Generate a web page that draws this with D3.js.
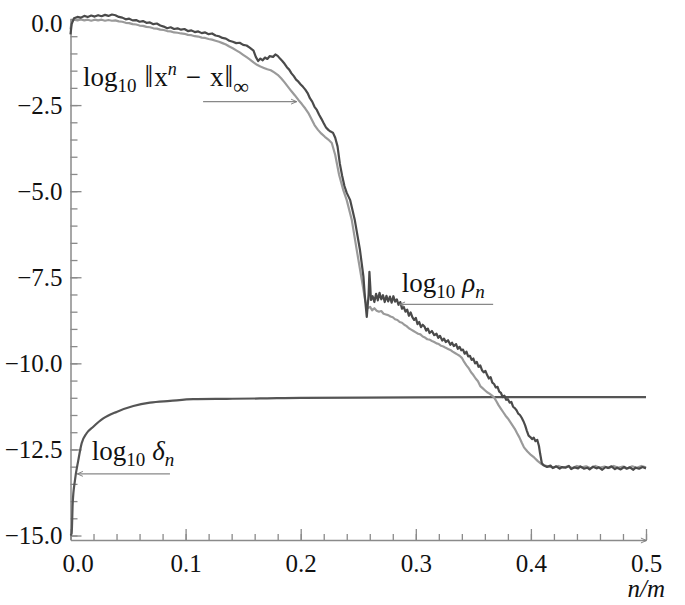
<!DOCTYPE html>
<html>
<head>
<meta charset="utf-8">
<script src="https://cdn.jsdelivr.net/npm/d3@7/dist/d3.min.js"></script>
<style>
  body { margin: 0; background: #fff; }
  svg text { font-family: "Liberation Serif", "DejaVu Serif", serif; fill: #111; }
</style>
</head>
<body>
<div id="chart"></div>
<script>
// значения: [n/m, log10]
const rhoSeries = [
  [0.000,-0.45],[0.001,-0.15],[0.003,0.02],[0.006,0.06],[0.009,0.04],[0.012,0.09],[0.015,0.06],
  [0.018,0.10],[0.021,0.07],[0.024,0.11],[0.027,0.08],[0.030,0.12],[0.033,0.09],[0.036,0.13],
  [0.039,0.11],[0.042,0.06],[0.045,0.04],[0.048,-0.01],[0.051,0.01],[0.054,-0.04],[0.057,-0.03],
  [0.060,-0.08],[0.063,-0.06],[0.066,-0.11],[0.069,-0.10],[0.072,-0.15],[0.075,-0.13],[0.078,-0.19],
  [0.081,-0.22],[0.084,-0.27],[0.087,-0.24],[0.090,-0.29],[0.093,-0.27],[0.096,-0.31],[0.099,-0.29],
  [0.102,-0.35],[0.105,-0.33],[0.108,-0.38],[0.111,-0.36],[0.114,-0.41],[0.117,-0.39],[0.120,-0.44],
  [0.123,-0.42],[0.126,-0.48],[0.129,-0.50],[0.132,-0.55],[0.135,-0.57],[0.138,-0.63],[0.141,-0.66],
  [0.144,-0.70],[0.147,-0.69],[0.150,-0.75],[0.153,-0.77],[0.156,-0.84],[0.159,-0.92],[0.161,-1.10],
  [0.163,-1.22],[0.165,-1.15],[0.167,-1.20],[0.169,-1.12],[0.171,-1.16],[0.173,-1.08],[0.176,-1.10],
  [0.178,-1.03],[0.180,-1.07],[0.182,-1.15],[0.184,-1.22],[0.186,-1.30],[0.188,-1.40],[0.190,-1.47],
  [0.192,-1.58],[0.194,-1.66],[0.196,-1.76],[0.198,-1.82],[0.200,-1.90],[0.202,-1.97],[0.204,-2.05],
  [0.206,-2.15],[0.208,-2.30],[0.210,-2.40],[0.212,-2.55],[0.214,-2.64],[0.216,-2.78],[0.218,-2.90],
  [0.220,-3.03],[0.222,-3.15],[0.224,-3.22],[0.226,-3.27],[0.228,-3.30],[0.230,-3.45],[0.232,-3.70],
  [0.234,-4.20],[0.236,-4.55],[0.238,-4.85],[0.240,-5.05],[0.243,-5.26],[0.247,-5.84],[0.2515,-6.71],
  [0.2545,-7.48],[0.256,-8.16],[0.2574,-8.65],[0.259,-8.00],[0.2597,-7.34],[0.2605,-7.80],[0.261,-8.16],
  [0.2625,-8.05],[0.264,-8.22],[0.2655,-7.98],[0.267,-8.17],[0.2685,-7.95],[0.270,-8.14],[0.2715,-8.02],
  [0.273,-8.22],[0.2745,-8.04],[0.276,-8.20],[0.2775,-8.06],[0.279,-8.24],[0.2805,-8.05],[0.282,-8.21],
  [0.2835,-8.14],[0.285,-8.30],[0.2865,-8.22],[0.288,-8.41],[0.2895,-8.36],[0.291,-8.50],[0.2925,-8.44],
  [0.294,-8.62],[0.2955,-8.52],[0.297,-8.66],[0.2985,-8.74],[0.300,-8.68],[0.3015,-8.86],[0.303,-8.80],
  [0.3045,-8.95],[0.306,-8.88],[0.3075,-8.93],[0.309,-9.05],[0.3105,-8.99],[0.312,-9.12],[0.314,-9.06],
  [0.316,-9.18],[0.318,-9.14],[0.3195,-9.26],[0.321,-9.20],[0.323,-9.34],[0.3245,-9.28],[0.326,-9.38],
  [0.328,-9.33],[0.330,-9.46],[0.3315,-9.40],[0.333,-9.50],[0.335,-9.44],[0.3365,-9.58],[0.338,-9.52],
  [0.3395,-9.62],[0.341,-9.60],[0.3425,-9.72],[0.344,-9.66],[0.3455,-9.80],[0.347,-9.78],[0.3485,-9.90],
  [0.350,-9.86],[0.3515,-10.00],[0.353,-9.96],[0.3545,-10.10],[0.356,-10.06],[0.3575,-10.20],
  [0.359,-10.26],[0.3605,-10.22],[0.362,-10.34],[0.3635,-10.44],[0.365,-10.40],[0.3665,-10.56],
  [0.368,-10.60],[0.3695,-10.70],[0.371,-10.68],[0.3725,-10.82],[0.374,-10.86],[0.3755,-10.98],
  [0.377,-10.94],[0.3785,-11.06],[0.380,-11.04],[0.3815,-11.14],[0.383,-11.12],[0.3845,-11.26],
  [0.386,-11.30],[0.3875,-11.36],[0.389,-11.46],[0.3905,-11.50],[0.392,-11.58],[0.3935,-11.68],
  [0.395,-11.80],[0.3965,-11.96],[0.398,-12.10],[0.3995,-12.14],[0.401,-12.20],[0.4025,-12.16],
  [0.404,-12.26],[0.4055,-12.22],[0.407,-12.40],[0.408,-12.62],[0.4095,-12.90],[0.411,-12.96],
  [0.414,-13.01],[0.417,-12.97],[0.419,-13.04],[0.422,-12.99],[0.425,-13.06],[0.427,-13.01],
  [0.430,-13.03],[0.433,-12.98],[0.435,-13.07],[0.438,-13.02],[0.441,-13.05],[0.443,-12.99],
  [0.446,-13.06],[0.449,-13.03],[0.451,-13.08],[0.454,-13.00],[0.457,-13.05],[0.459,-13.02],
  [0.462,-13.09],[0.465,-13.01],[0.467,-13.04],[0.470,-12.99],[0.473,-13.07],[0.475,-13.03],
  [0.478,-13.08],[0.481,-13.01],[0.483,-13.06],[0.486,-13.02],[0.489,-13.09],[0.491,-13.03],
  [0.494,-13.06],[0.497,-13.01],[0.500,-13.05]
];

const errSeries = [
  [0.000,-0.30],[0.001,-0.08],[0.003,-0.02],[0.006,-0.04],[0.009,-0.01],[0.012,-0.04],[0.015,-0.02],
  [0.018,-0.05],[0.021,-0.02],[0.024,-0.04],[0.027,-0.02],[0.030,-0.05],[0.033,-0.03],[0.036,-0.05],
  [0.039,-0.04],[0.042,-0.07],[0.045,-0.08],[0.048,-0.11],[0.051,-0.12],[0.054,-0.15],[0.057,-0.16],
  [0.060,-0.19],[0.063,-0.20],[0.066,-0.23],[0.069,-0.24],[0.072,-0.27],[0.075,-0.28],[0.078,-0.31],
  [0.081,-0.32],[0.084,-0.35],[0.087,-0.36],[0.090,-0.39],[0.093,-0.40],[0.096,-0.42],[0.099,-0.43],
  [0.102,-0.46],[0.105,-0.47],[0.108,-0.50],[0.111,-0.51],[0.114,-0.54],[0.117,-0.55],[0.120,-0.58],
  [0.123,-0.60],[0.126,-0.63],[0.129,-0.66],[0.132,-0.70],[0.135,-0.74],[0.138,-0.80],[0.141,-0.85],
  [0.144,-0.91],[0.147,-0.97],[0.150,-1.04],[0.153,-1.11],[0.156,-1.18],[0.159,-1.26],[0.162,-1.33],
  [0.165,-1.38],[0.168,-1.42],[0.171,-1.46],[0.174,-1.49],[0.177,-1.55],[0.180,-1.62],[0.183,-1.72],
  [0.186,-1.84],[0.189,-1.97],[0.192,-2.10],[0.195,-2.22],[0.198,-2.35],[0.201,-2.47],[0.204,-2.60],
  [0.207,-2.75],[0.210,-2.95],[0.212,-3.08],[0.215,-3.22],[0.218,-3.33],[0.221,-3.42],[0.224,-3.50],
  [0.227,-3.60],[0.230,-3.95],[0.2334,-4.53],[0.237,-4.97],[0.240,-5.26],[0.2444,-5.84],[0.2487,-6.71],
  [0.2531,-7.58],[0.256,-8.16],[0.258,-8.40],[0.2603,-8.36],[0.262,-8.46],[0.264,-8.40],[0.266,-8.47],
  [0.268,-8.50],[0.270,-8.48],[0.272,-8.56],[0.274,-8.58],[0.276,-8.60],[0.278,-8.64],[0.280,-8.66],
  [0.282,-8.72],[0.284,-8.74],[0.286,-8.80],[0.288,-8.82],[0.290,-8.88],[0.292,-8.92],[0.294,-8.98],
  [0.296,-9.02],[0.298,-9.06],[0.300,-9.10],[0.302,-9.14],[0.304,-9.16],[0.306,-9.22],[0.308,-9.25],
  [0.310,-9.30],[0.312,-9.31],[0.314,-9.35],[0.316,-9.38],[0.318,-9.42],[0.320,-9.44],[0.322,-9.49],
  [0.324,-9.51],[0.326,-9.55],[0.328,-9.58],[0.330,-9.61],[0.332,-9.66],[0.334,-9.70],[0.336,-9.74],
  [0.338,-9.78],[0.340,-9.84],[0.342,-9.96],[0.344,-10.06],[0.346,-10.14],[0.348,-10.26],
  [0.350,-10.34],[0.352,-10.44],[0.354,-10.52],[0.356,-10.66],[0.358,-10.72],[0.360,-10.78],
  [0.362,-10.84],[0.364,-10.88],[0.366,-10.93],[0.368,-10.99],[0.370,-11.10],[0.372,-11.22],
  [0.374,-11.32],[0.376,-11.42],[0.378,-11.52],[0.380,-11.60],[0.382,-11.70],[0.384,-11.80],
  [0.386,-11.90],[0.388,-12.03],[0.390,-12.15],[0.392,-12.30],[0.394,-12.44],[0.397,-12.56],
  [0.400,-12.66],[0.403,-12.74],[0.406,-12.84],[0.409,-12.92],[0.412,-12.97],[0.416,-13.00],
  [0.420,-13.02],[0.424,-12.98],[0.428,-13.03],[0.432,-12.99],[0.436,-13.04],[0.440,-12.98],
  [0.444,-13.02],[0.448,-12.99],[0.452,-13.05],[0.456,-12.98],[0.460,-13.03],[0.464,-13.00],
  [0.468,-13.04],[0.472,-12.98],[0.476,-13.03],[0.480,-13.00],[0.484,-13.05],[0.488,-12.99],
  [0.492,-13.03],[0.496,-12.98],[0.500,-13.02]
];

const deltaSeries = [
  [0.000,-15.00],[0.001,-14.94],[0.0019,-14.07],[0.0039,-13.39],[0.0068,-12.81],[0.0097,-12.32],
  [0.014,-12.03],[0.0198,-11.84],[0.0285,-11.60],[0.040,-11.41],[0.0546,-11.24],[0.069,-11.14],
  [0.0865,-11.09],[0.1067,-11.04],[0.1357,-11.03],[0.1647,-11.02],[0.200,-11.00],[0.300,-10.99],
  [0.400,-10.98],[0.500,-10.98]
];

const xMajorTicks = [0, 0.1, 0.2, 0.3, 0.4, 0.5];
const yMajorTicks = [0, -2.5, -5, -7.5, -10, -12.5, -15];
const xMinorTicks = d3.range(0, 0.5001, 0.02);
const yMinorTicks = d3.range(-15, 0.001, 0.5);

// подписи со стрелками: текст и начало/конец стрелки в координатах данных
const annotations = [
  { parts: ["log", "10", "‖", "x", "n", "−", "x", "‖", "∞"], kind: "err", tx: 0.0109, ty: -1.96, from: [0.1152, -2.40], to: [0.1965, -2.40] },
  { parts: ["log", "10", "ρ", "n"], kind: "rho", tx: 0.2878, ty: -7.92, from: [0.3672, -8.29], to: [0.2858, -8.29] },
  { parts: ["log", "10", "δ", "n"], kind: "delta", tx: 0.0184, ty: -12.81, from: [0.0864, -13.21], to: [0.0059, -13.21] }
];

const W = 685, H = 605;
const svg = d3.select("#chart").append("svg").attr("width", W).attr("height", H);

const x = d3.scaleLinear().domain([0, 0.5]).range([70.5, 646]);
const y = d3.scaleLinear().domain([-15.13, 0]).range([540, 19]);

const axisColor = "#8a8a8a";

svg.append("defs").append("marker")
  .attr("id", "arr").attr("viewBox", "0 0 10 10").attr("refX", 9).attr("refY", 5)
  .attr("markerWidth", 7).attr("markerHeight", 7).attr("markerUnits", "userSpaceOnUse")
  .attr("orient", "auto")
  .append("path").attr("d", "M1,1.5 L9,5 L1,8.5").attr("fill", "none")
  .attr("stroke", "#777").attr("stroke-width", 1.3);

// малые деления
svg.append("g").attr("transform", `translate(0,${y.range()[0]})`)
  .call(d3.axisBottom(x).tickValues(xMinorTicks).tickSize(-6).tickFormat(""))
  .call(g => g.select(".domain").remove());
svg.append("g").attr("transform", `translate(${x.range()[0]},0)`)
  .call(d3.axisLeft(y).tickValues(yMinorTicks).tickSize(-7).tickFormat(""))
  .call(g => g.select(".domain").remove());

// основные оси
const gx = svg.append("g").attr("transform", `translate(0,${y.range()[0]})`)
  .call(d3.axisBottom(x).tickValues(xMajorTicks).tickSizeInner(-11).tickSizeOuter(0)
    .tickPadding(14).tickFormat(d3.format(".1f")));
gx.select(".domain").attr("marker-end", "url(#arr)");
gx.selectAll(".tick text").filter(d => d === 0).attr("dx", 7);

const gy = svg.append("g").attr("transform", `translate(${x.range()[0]},0)`)
  .call(d3.axisLeft(y).tickValues(yMajorTicks).tickSizeInner(-11).tickSizeOuter(0)
    .tickPadding(8).tickFormat(d3.format(".1f")));
gy.selectAll(".tick text").filter(d => d === 0).attr("dy", "0.5em");

svg.selectAll(".tick line").attr("stroke", axisColor).attr("stroke-width", 1.3);
svg.selectAll(".domain").attr("stroke", axisColor).attr("stroke-width", 1.5);
svg.selectAll(".tick text").attr("font-size", 25).attr("fill", "#111");

svg.append("text").attr("x", 665).attr("y", 597).attr("text-anchor", "end")
  .attr("font-size", 25).attr("font-style", "italic").text("n/m");

// кривые
const line = d3.line().x(d => x(d[0])).y(d => y(d[1]));

svg.append("path").datum(deltaSeries).attr("d", line.curve(d3.curveMonotoneX))
  .attr("fill", "none").attr("stroke", "#555").attr("stroke-width", 2.2);

line.curve(d3.curveLinear);
svg.append("path").datum(errSeries).attr("d", line)
  .attr("fill", "none").attr("stroke", "#9a9a9a").attr("stroke-width", 2.2)
  .attr("stroke-linejoin", "round");
svg.append("path").datum(rhoSeries).attr("d", line)
  .attr("fill", "none").attr("stroke", "#4a4a4a").attr("stroke-width", 2.2)
  .attr("stroke-linejoin", "round");

// подписи
annotations.forEach(a => {
  svg.append("line")
    .attr("x1", x(a.from[0])).attr("y1", y(a.from[1]))
    .attr("x2", x(a.to[0])).attr("y2", y(a.to[1]))
    .attr("stroke", "#888").attr("stroke-width", 1.2)
    .attr("marker-end", "url(#arr)");

  const t = svg.append("text").attr("x", x(a.tx)).attr("y", y(a.ty)).attr("font-size", 27);
  const p = a.parts;
  t.append("tspan").text(p[0]);
  t.append("tspan").attr("font-size", 19).attr("dy", 6).text(p[1]);
  if (a.kind === "err") {
    t.append("tspan").attr("font-size", 31).attr("dx", 8).attr("dy", -5).text(p[2]);
    t.append("tspan").attr("dx", 1).attr("dy", -1).text(p[3]);
    t.append("tspan").attr("font-size", 18).attr("font-style", "italic").attr("dy", -11).text(p[4]);
    t.append("tspan").attr("dx", 9).attr("dy", 11).text(p[5]);
    t.append("tspan").attr("dx", 9).text(p[6]);
    t.append("tspan").attr("font-size", 31).attr("dx", 1).attr("dy", 1).text(p[7]);
    t.append("tspan").attr("font-size", 22).attr("dy", 7).text(p[8]);
  } else {
    t.append("tspan").attr("font-style", "italic").attr("dx", 7).attr("dy", -6).text(p[2]);
    t.append("tspan").attr("font-size", 19).attr("font-style", "italic").attr("dy", 6).text(p[3]);
  }
});
</script>
</body>
</html>
